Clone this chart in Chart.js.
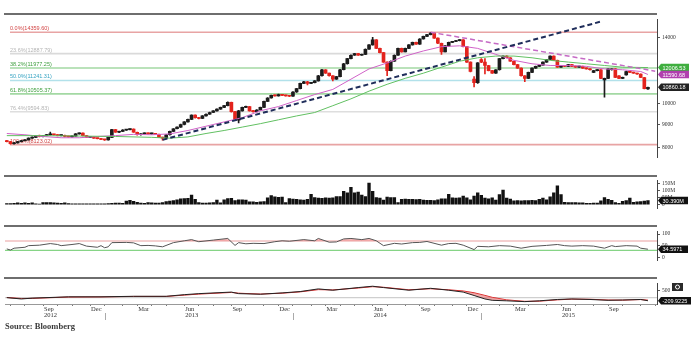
<!DOCTYPE html>
<html>
<head>
<meta charset="utf-8">
<script src="https://cdn.jsdelivr.net/npm/chart.js@4.4.1/dist/chart.umd.min.js"></script>
<style>
  body { margin: 0; background: #fff; width: 692px; height: 338px; overflow: hidden; position: relative; }
  canvas { position: absolute; left: 0; }
  .sep { position: absolute; left: 4px; width: 653px; height: 2px; background: #6e6e6e; }
  #source { position: absolute; left: 5px; top: 321px; line-height: 10px; font: bold 8.5px "Liberation Serif", serif; color: #3a3a3a; }
</style>
</head>
<body>
<canvas id="priceChart" width="692" height="161" style="top:14px"></canvas>
<canvas id="volChart" width="692" height="51" style="top:175px"></canvas>
<canvas id="rsiChart" width="692" height="52" style="top:226px"></canvas>
<canvas id="macdChart" width="692" height="44" style="top:278px"></canvas>
<div class="sep" style="top:12.5px"></div>
<div class="sep" style="top:174.5px"></div>
<div class="sep" style="top:225px"></div>
<div class="sep" style="top:277px"></div>
<div id="source">Source: Bloomberg</div>
<script>
// weekly bars, first week ending 2012-06-28; two empty slots on the right
const firstWeek = [2012, 5, 28];
const weekCount = 180;

const opens = [8282, 8246, 8158, 8193, 8246, 8282, 8318, 8391, 8427, 8500,
  8464, 8500, 8537, 8556, 8537, 8500, 8518, 8464, 8445, 8482,
  8575, 8612, 8500, 8427, 8445, 8391, 8372, 8336, 8318, 8427,
  8763, 8649, 8687, 8744, 8763, 8782, 8649, 8537, 8575, 8612,
  8575, 8593, 8556, 8427, 8391, 8537, 8687, 8801, 8877, 8994,
  9112, 9231, 9433, 9312, 9271, 9393, 9474, 9557, 9640, 9724,
  9809, 9894, 10067, 9599, 9191, 9640, 9809, 9851, 9640, 9599,
  9682, 9809, 10111, 10288, 10423, 10400, 10469, 10423, 10400, 10378,
  10606, 10791, 11076, 11173, 11076, 11124, 11221, 11517, 11873, 11668,
  11517, 11319, 11467, 11873, 12239, 12561, 12781, 12893, 12781, 12837,
  13176, 13465, 13819, 13233, 12949, 12345, 11821, 12399, 12781, 13233,
  13005, 13233, 13465, 13641, 13523, 13879, 14062, 14184, 14308, 13939,
  13582, 13005, 13406, 13641, 13700, 13760, 13819, 13348, 12345, 11319,
  11124, 12507, 12345, 12133, 11821, 11668, 11873, 12561, 12726, 12616,
  12399, 12186, 11976, 11517, 11368, 11719, 11976, 12081, 12160, 12345,
  12507, 12726, 12453, 12028, 12133, 12081, 12186, 12081, 12028, 12081,
  11976, 11924, 11719, 11821, 11873, 11270, 11368, 11873, 11924, 11517,
  11368, 11567, 11770, 11719, 11668, 11618, 11418, 10768];
const highs = [8300, 8260, 8215, 8260, 8300, 8335, 8405, 8445, 8515, 8520,
  8515, 8555, 8650, 8570, 8545, 8535, 8525, 8480, 8495, 8590,
  8625, 8620, 8510, 8460, 8455, 8400, 8380, 8345, 8440, 8780,
  8775, 8700, 8760, 8780, 8800, 8795, 8660, 8590, 8625, 8620,
  8610, 8600, 8565, 8440, 8550, 8700, 8815, 8890, 9010, 9125,
  9245, 9450, 9445, 9325, 9405, 9490, 9575, 9655, 9740, 9825,
  9910, 10090, 10080, 9615, 9660, 9830, 9880, 9865, 9660, 9700,
  9830, 10130, 10305, 10440, 10450, 10490, 10480, 10435, 10410, 10625,
  10810, 11095, 11190, 11190, 11140, 11240, 11540, 11895, 11890, 11680,
  11530, 11485, 11895, 12260, 12580, 12800, 12910, 12910, 12855, 13195,
  13485, 14000, 13835, 13250, 12965, 12360, 12420, 12800, 13250, 13250,
  13250, 13485, 13660, 13655, 13900, 14080, 14205, 14359.6, 14320, 13955,
  13600, 13425, 13660, 13720, 13780, 13840, 13835, 13365, 12360, 11467,
  12310, 12560, 12561, 12150, 11840, 11890, 12580, 12745, 12760, 12630,
  12410, 12200, 11990, 11530, 11735, 11990, 12100, 12180, 12360, 12525,
  12745, 12740, 12470, 12150, 12145, 12200, 12200, 12095, 12100, 12095,
  11990, 11940, 11840, 11890, 11890, 11385, 11940, 11940, 11940, 11530,
  11435, 11790, 11780, 11735, 11680, 11630, 11430, 10880];
const lows = [8230, 8140, 8140, 8180, 8235, 8270, 8305, 8380, 8415, 8450,
  8450, 8490, 8525, 8520, 8485, 8490, 8450, 8430, 8435, 8475,
  8565, 8490, 8415, 8415, 8380, 8360, 8325, 8300, 8305, 8415,
  8635, 8630, 8675, 8730, 8745, 8635, 8520, 8525, 8560, 8560,
  8565, 8545, 8415, 8310, 8380, 8525, 8675, 8790, 8865, 8980,
  9100, 9220, 9290, 9250, 9260, 9380, 9460, 9545, 9625, 9710,
  9795, 9880, 9580, 9170, 9072, 9625, 9795, 9620, 9580, 9585,
  9670, 9795, 10095, 10275, 10385, 10385, 10405, 10385, 10360, 10365,
  10590, 10775, 11060, 11000, 11060, 11110, 11205, 11500, 11650, 11500,
  11221, 11300, 11450, 11860, 12220, 12545, 12765, 12765, 12765, 12820,
  13160, 13445, 13215, 12930, 12325, 11517, 11800, 12380, 12765, 12985,
  12990, 13215, 13445, 13500, 13505, 13860, 14045, 14165, 13920, 13560,
  12837, 12990, 13390, 13625, 13685, 13740, 13330, 12325, 11750, 10886,
  11080, 12300, 11618, 11800, 11650, 11650, 11855, 12545, 12600, 12380,
  12170, 11960, 11500, 11173, 11350, 11700, 11960, 12065, 12145, 12330,
  12490, 12435, 12010, 12010, 12060, 12065, 12065, 12010, 12015, 11960,
  11905, 11855, 11700, 11805, 11350, 10333, 11350, 11855, 11400, 11350,
  11350, 11550, 11700, 11650, 11600, 11400, 10770, 10740];
const closes = [8246, 8158, 8193, 8246, 8282, 8318, 8391, 8427, 8500, 8464,
  8500, 8537, 8556, 8537, 8500, 8518, 8464, 8445, 8482, 8575,
  8612, 8500, 8427, 8445, 8391, 8372, 8336, 8318, 8427, 8763,
  8649, 8687, 8744, 8763, 8782, 8649, 8537, 8575, 8612, 8575,
  8593, 8556, 8427, 8391, 8537, 8687, 8801, 8877, 8994, 9112,
  9231, 9433, 9312, 9271, 9393, 9474, 9557, 9640, 9724, 9809,
  9894, 10067, 9599, 9191, 9640, 9809, 9851, 9640, 9599, 9682,
  9809, 10111, 10288, 10423, 10400, 10469, 10423, 10400, 10378, 10606,
  10791, 11076, 11173, 11076, 11124, 11221, 11517, 11873, 11668, 11517,
  11319, 11467, 11873, 12239, 12561, 12781, 12893, 12781, 12837, 13176,
  13465, 13819, 13233, 12949, 12345, 11821, 12399, 12781, 13233, 13005,
  13233, 13465, 13641, 13523, 13879, 14062, 14184, 14308, 13939, 13582,
  13005, 13406, 13641, 13700, 13760, 13819, 13348, 12345, 11770, 11124,
  12292, 12345, 12133, 11821, 11668, 11873, 12561, 12726, 12616, 12399,
  12186, 11976, 11517, 11368, 11719, 11976, 12081, 12160, 12345, 12507,
  12726, 12453, 12028, 12133, 12081, 12186, 12081, 12028, 12081, 11976,
  11924, 11873, 11821, 11873, 11368, 11368, 11924, 11924, 11418, 11368,
  11418, 11770, 11719, 11668, 11618, 11418, 10791, 10860.18];

// volume, millions of shares
const volumes = [9, 9, 10, 13, 10, 13, 10, 13, 7, 5, 15,
  16, 15, 13, 12, 10, 13, 8,
  7, 6, 7, 7, 6, 6, 7, 6, 7, 6, 8,
  10, 12, 11, 10, 27, 31, 25, 18, 12, 10, 15,
  14, 12, 12, 15, 22, 27, 30, 35, 42, 44, 46, 70, 38,
  15, 12, 12, 14, 16, 34, 14, 36, 44, 46, 30, 35, 36, 34,
  20, 21, 18, 20, 22, 50, 66, 56, 53, 55, 16, 45,
  40, 38, 36, 34, 38, 74, 52, 48, 46, 50, 48, 50, 58, 59,
  97, 86, 125, 86, 90, 70, 59, 156, 97, 51, 47, 33, 55, 51, 51, 16,
  39, 40, 38, 39, 37, 38, 33, 31, 31, 30, 35, 43, 43, 74, 49, 48,
  50, 62, 49, 35, 62, 86, 68, 47, 42, 50, 33, 72, 105, 47, 40,
  28, 29, 28, 30, 29, 31, 30,
  39, 47, 35, 57, 86, 136, 72, 18, 16, 16, 16, 14, 13,
  10, 10, 11, 12, 28, 51, 39, 31, 16, 10,
  25, 30, 47, 18, 20, 22, 26, 30.39];

// 40-week (green) and 13-week (magenta) moving averages, read at sample weeks
const ma40Idx = [0, 10, 20, 30, 40, 45, 50, 55, 60, 65, 70, 75, 80, 85, 90, 95, 100, 105, 110, 115, 120, 125, 130, 135, 140, 145, 150, 155, 160, 165, 170, 177];
const ma40Val = [8500, 8500, 8482, 8464, 8427, 8391, 8445, 8593, 8725, 8877, 9033, 9211, 9393, 9557, 9894, 10244, 10652, 11028, 11368, 11668, 12028, 12399, 12616, 12726, 12726, 12616, 12453, 12345, 12239, 12133, 12028, 12006.53];
const ma13Idx = [0, 5, 10, 15, 20, 25, 30, 35, 40, 45, 50, 55, 60, 65, 70, 75, 80, 85, 90, 95, 100, 105, 110, 115, 120, 125, 130, 135, 140, 145, 150, 155, 160, 165, 170, 175, 177];
const ma13Val = [8593, 8537, 8464, 8409, 8409, 8464, 8500, 8556, 8537, 8575, 8725, 8916, 9112, 9312, 9640, 9851, 10155, 10469, 10745, 11319, 11924, 12292, 12726, 13062, 13348, 13406, 13233, 12837, 12453, 12239, 12133, 12133, 12081, 11924, 11873, 11770, 11590.68];

// trend lines (end points)
const upTrendIdx = [43, 164];
const upTrendVal = [8318, 15160];
const downTrendIdx = [117, 179];
const downTrendVal = [14359.6, 11790];

// Fibonacci retracement levels
const fibPct = ['0.0%', '23.6%', '38.2%', '50.0%', '61.8%', '76.4%', '100.0%'];
const fibVal = [14359.60, 12887.79, 11977.25, 11241.31, 10505.37, 9594.83, 8123.02];

// RSI and MACD read at sample weeks
const rsiIdx = [0, 1, 2, 5, 6, 9, 12, 14, 15, 18, 20, 22, 25, 26, 27, 28, 29, 33, 35, 37, 39, 41, 43, 46, 49, 51, 53, 57, 61, 63, 64, 66, 68, 71, 74, 76, 78, 82, 85, 86, 89, 91, 93, 95, 98, 100, 102, 104, 107, 109, 112, 114, 116, 120, 122, 124, 126, 129, 130, 133, 136, 139, 142, 145, 149, 152, 154, 156, 159, 162, 165, 167, 168, 171, 174, 175, 177];
const rsiVal = [36, 31, 39, 43, 50, 52, 59, 55, 50, 55, 59, 48, 43, 50, 41, 45, 63, 64, 62, 50, 51, 49, 45, 63, 71, 76, 67, 74, 81, 51, 63, 58, 60, 59, 67, 71, 69, 76, 71, 81, 65, 66, 79, 81, 76, 81, 71, 50, 60, 57, 63, 64, 68, 52, 59, 60, 52, 33, 47, 45, 50, 48, 39, 47, 51, 55, 50, 48, 50, 48, 39, 50, 46, 50, 48, 39, 34.5971];
const rsiBands = [70, 30];
const macdIdx = [0, 4, 7, 17, 26, 35, 44, 49, 53, 62, 64, 70, 76, 81, 86, 90, 97, 101, 104, 111, 117, 122, 126, 129, 132, 134, 138, 143, 147, 152, 156, 161, 166, 170, 175, 177];
const macdVal = [0, -90, -35, 55, 55, 90, 90, 200, 270, 375, 270, 230, 320, 410, 590, 500, 680, 770, 680, 500, 630, 500, 375, 145, -90, -180, -215, -270, -215, -125, -90, -125, -180, -160, -125, -209.9225];
const signalVal = [10, -60, -50, 40, 50, 80, 80, 170, 240, 350, 300, 240, 300, 390, 540, 520, 650, 740, 700, 530, 600, 530, 450, 330, 150, 20, -150, -250, -240, -150, -100, -110, -160, -170, -130, -170];

// axis ticks
const priceTicks = [8000, 9000, 10000, 14000];
const volTicks = [0, 50, 100, 150];
const rsiTicks = [0, 50, 100];
const macdTicks = [500];
const axisWeekIdx = [10, 23, 36, 49, 62, 75, 88, 101, 114, 127, 140, 153, 166];
const axisMonths = ['Sep', 'Dec', 'Mar', 'Jun', 'Sep', 'Dec', 'Mar', 'Jun', 'Sep', 'Dec', 'Mar', 'Jun', 'Sep'];
const axisYears = ['2012', '', '', '2013', '', '', '', '2014', '', '', '', '2015', ''];

// ---------------------------------------------------------------
const weekLabels = [];
for (let i = 0; i < weekCount; i++) {
  const d = new Date(Date.UTC(firstWeek[0], firstWeek[1], firstWeek[2] + 7 * i));
  weekLabels.push(d.toISOString().slice(0, 10));
}
const monthStarts = new Set();
const yearStarts = [];
weekLabels.forEach((l, i) => {
  if (i > 0 && l.slice(5, 7) !== weekLabels[i - 1].slice(5, 7)) monthStarts.add(i);
  if (i > 0 && l.slice(0, 4) !== weekLabels[i - 1].slice(0, 4)) yearStarts.push(i);
});

function sparse(idx, vals) {
  const out = new Array(weekCount).fill(null);
  idx.forEach((k, j) => { out[k] = vals[j]; });
  return out;
}

const RED = '#e3231d', BLACK = '#1c1c1c';
const candleColor = c => closes[c.dataIndex] < opens[c.dataIndex] ? RED : BLACK;

Chart.defaults.font.family = '"Liberation Serif", serif';

function xAxis(show) {
  return {
    type: 'category', offset: true, display: show,
    afterFit: s => { s.height = 18; },
    border: { color: '#999', width: 1 },
    grid: {
      offset: false, drawOnChartArea: false, tickLength: 2,
      color: c => monthStarts.has(c.index) ? '#777' : 'rgba(0,0,0,0)'
    },
    ticks: {
      autoSkip: false, maxRotation: 0, align: 'start', labelOffset: 1, padding: 0,
      color: '#333', font: { size: 6.5, lineHeight: 1 },
      callback: (v, i) => {
        const k = axisWeekIdx.indexOf(i);
        if (k < 0) return '';
        return axisYears[k] ? [axisMonths[k], axisYears[k]] : axisMonths[k];
      }
    }
  };
}

function yAxis(type, min, max, tickVals, fmt) {
  return {
    type, min, max, bounds: 'data', position: 'right',
    afterFit: s => { s.width = 35; },
    afterBuildTicks: s => { s.ticks = tickVals.map(v => ({ value: v })); },
    border: { color: '#444', width: 1 },
    grid: { drawOnChartArea: false, tickLength: 3, color: '#555' },
    ticks: { autoSkip: false, padding: 2, color: '#333', font: { size: 5.5 }, callback: fmt }
  };
}

function baseOptions(yOpts, showX) {
  return {
    responsive: false, animation: false, devicePixelRatio: 1,
    layout: { padding: { left: 5, right: 0, top: 0, bottom: 0 }, autoPadding: false },
    plugins: { legend: { display: false }, tooltip: { enabled: false } },
    scales: { x: xAxis(showX), y: yOpts }
  };
}

function drawTag(ctx, x, y, w, text, bg) {
  const h = 7.5;
  ctx.save();
  ctx.fillStyle = bg;
  ctx.beginPath();
  ctx.moveTo(x, y);
  ctx.lineTo(x + 3, y - h / 2);
  ctx.lineTo(x + w, y - h / 2);
  ctx.lineTo(x + w, y + h / 2);
  ctx.lineTo(x + 3, y + h / 2);
  ctx.closePath();
  ctx.fill();
  ctx.fillStyle = '#fff';
  ctx.font = '5.5px "Liberation Sans"';
  ctx.textBaseline = 'middle';
  ctx.fillText(text, x + 4.5, y + 0.5);
  ctx.restore();
}

function tagPlugin(tags) {
  return {
    id: 'tags',
    afterDraw(chart) {
      const { ctx, chartArea, scales: { y } } = chart;
      tags.forEach(t => drawTag(ctx, chartArea.right + 1, y.getPixelForValue(t.value), t.w, t.text, t.bg));
    }
  };
}

const fibLine = ['#e8a4a4', '#dadada', '#a3d9a3', '#b2e1ea', '#a3d9a3', '#dedede', '#e8a4a4'];
const fibText = ['#d24545', '#b5b5b5', '#3f9f3f', '#35a3c2', '#3f9f3f', '#b5b5b5', '#d24545'];
const fibPlugin = {
  id: 'fib',
  beforeDatasetsDraw(chart) {
    const { ctx, chartArea, scales: { y } } = chart;
    ctx.save();
    fibVal.forEach((v, k) => {
      const py = y.getPixelForValue(v);
      ctx.strokeStyle = fibLine[k];
      ctx.lineWidth = 1.6;
      ctx.beginPath();
      ctx.moveTo(10, py);
      ctx.lineTo(chartArea.right, py);
      ctx.stroke();
      ctx.fillStyle = fibText[k];
      ctx.font = '5.5px "Liberation Sans"';
      ctx.textBaseline = 'bottom';
      ctx.fillText(fibPct[k] + '(' + v.toFixed(2) + ')', 10, py - 0.8);
    });
    ctx.restore();
  }
};

function hLinePlugin(values, colors) {
  return {
    id: 'hlines',
    beforeDatasetsDraw(chart) {
      const { ctx, chartArea, scales: { y } } = chart;
      ctx.save();
      values.forEach((v, k) => {
        const py = y.getPixelForValue(v);
        ctx.strokeStyle = colors[k];
        ctx.lineWidth = 1.2;
        ctx.beginPath();
        ctx.moveTo(chartArea.left, py);
        ctx.lineTo(chartArea.right, py);
        ctx.stroke();
      });
      ctx.restore();
    }
  };
}

// price panel
new Chart(document.getElementById('priceChart'), {
  data: {
    labels: weekLabels,
    datasets: [
      { type: 'line', data: sparse(upTrendIdx, upTrendVal), borderColor: '#1f2d5a', borderWidth: 2,
        borderDash: [5, 3], pointRadius: 0, spanGaps: true, order: 0 },
      { type: 'line', data: sparse(downTrendIdx, downTrendVal), borderColor: '#c56ac5', borderWidth: 1.5,
        borderDash: [5, 3], pointRadius: 0, spanGaps: true, order: 0 },
      { type: 'line', data: sparse(ma40Idx, ma40Val), borderColor: '#62c062', borderWidth: 1,
        pointRadius: 0, spanGaps: true, order: 1 },
      { type: 'line', data: sparse(ma13Idx, ma13Val), borderColor: '#d062c8', borderWidth: 1,
        pointRadius: 0, spanGaps: true, order: 1 },
      { type: 'bar', data: opens.map((o, i) => [o, closes[i]]), backgroundColor: candleColor,
        barThickness: 3, minBarLength: 1, grouped: false, borderWidth: 0, order: 2 },
      { type: 'bar', data: lows.map((l, i) => [l, highs[i]]), backgroundColor: candleColor,
        barThickness: 1, grouped: false, borderWidth: 0, order: 3 }
    ]
  },
  options: baseOptions(yAxis('logarithmic', 7627, 15336, priceTicks, v => String(v)), false),
  plugins: [fibPlugin, tagPlugin([
    { value: ma40Val[ma40Val.length - 1], text: ma40Val[ma40Val.length - 1].toFixed(2), bg: '#3fae3f', w: 31 },
    { value: ma13Val[ma13Val.length - 1], text: ma13Val[ma13Val.length - 1].toFixed(2), bg: '#b03fae', w: 31 },
    { value: closes[closes.length - 1], text: closes[closes.length - 1].toFixed(2), bg: '#222', w: 31 }
  ])]
});

// volume panel
new Chart(document.getElementById('volChart'), {
  type: 'bar',
  data: {
    labels: weekLabels,
    datasets: [{ data: volumes, backgroundColor: '#111', barThickness: 2.7, borderWidth: 0 }]
  },
  options: baseOptions(yAxis('linear', -23.4, 175.3, volTicks, v => v === 0 ? '0' : v + 'M'), false),
  plugins: [tagPlugin([
    { value: volumes[volumes.length - 1], text: volumes[volumes.length - 1].toFixed(3) + 'M', bg: '#111', w: 30 }
  ])]
});

// RSI panel
new Chart(document.getElementById('rsiChart'), {
  type: 'line',
  data: {
    labels: weekLabels,
    datasets: [{
      data: sparse(rsiIdx, rsiVal), borderColor: '#555', borderWidth: 1, pointRadius: 0, spanGaps: true,
      fill: { target: { value: 70 }, above: 'rgba(240,140,140,0.6)', below: 'rgba(0,0,0,0)' }
    }]
  },
  options: baseOptions(yAxis('linear', -11.9, 111.9, rsiTicks, v => String(v)), false),
  plugins: [hLinePlugin(rsiBands, ['#e9a0a0', '#86d486']), tagPlugin([
    { value: rsiVal[rsiVal.length - 1], text: rsiVal[rsiVal.length - 1].toFixed(4), bg: '#111', w: 30 }
  ])]
});

// MACD panel
new Chart(document.getElementById('macdChart'), {
  type: 'line',
  data: {
    labels: weekLabels,
    datasets: [
      { data: sparse(macdIdx, macdVal), borderColor: '#222', borderWidth: 1, pointRadius: 0, spanGaps: true,
        fill: { target: '+1', above: 'rgba(240,150,150,0.35)', below: 'rgba(232,110,110,0.6)' } },
      { data: sparse(macdIdx, signalVal), borderColor: '#d82020', borderWidth: 1, pointRadius: 0, spanGaps: true }
    ]
  },
  options: baseOptions(yAxis('linear', -430, 968, macdTicks, v => String(v)), true),
  plugins: [hLinePlugin([0], ['#cfcfcf']), tagPlugin([
    { value: macdVal[macdVal.length - 1], text: macdVal[macdVal.length - 1].toFixed(4), bg: '#111', w: 33 }
  ]), {
    id: 'extras',
    afterDraw(chart) {
      const { ctx, chartArea, scales: { x } } = chart;
      ctx.save();
      // settings button on the axis
      ctx.fillStyle = '#2b2b2b';
      ctx.fillRect(chartArea.right + 15, 5, 11, 8);
      ctx.strokeStyle = '#fff';
      ctx.lineWidth = 1;
      ctx.beginPath();
      ctx.arc(chartArea.right + 20.5, 9, 2, 0, Math.PI * 2);
      ctx.stroke();
      // year dividers under the month labels
      ctx.strokeStyle = '#aaa';
      yearStarts.forEach(i => {
        const px = Math.round(x.getPixelForValue(i)) + 0.5;
        ctx.beginPath();
        ctx.moveTo(px, chartArea.bottom + 9);
        ctx.lineTo(px, chartArea.bottom + 16);
        ctx.stroke();
      });
      ctx.restore();
    }
  }]
});
</script>
</body>
</html>
